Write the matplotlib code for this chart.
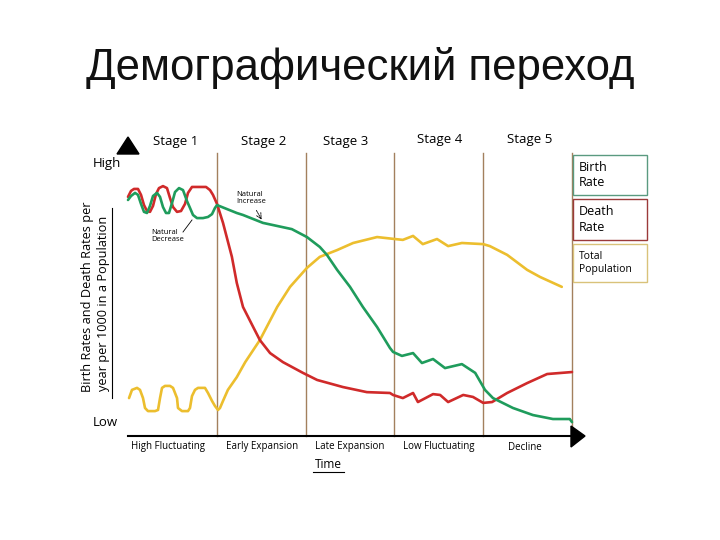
import matplotlib.pyplot as plt
from matplotlib.patches import Polygon, Rectangle
from matplotlib.lines import Line2D

# time runs 0..100 across the five stages, rates 0 (low) .. 100 (high)
stages = ['Stage 1', 'Stage 2', 'Stage 3', 'Stage 4', 'Stage 5']
phases = ['High Fluctuating', 'Early Expansion', 'Late Expansion', 'Low Fluctuating', 'Decline']
stage_edges = [20, 40, 60, 80, 100]

birth_t = [0, 0.68, 1.58, 2.25, 2.93, 3.60, 4.28, 4.95, 5.63, 6.53, 7.21, 7.88, 8.56, 9.23, 9.91, 10.59,
           11.49, 12.39, 13.29, 13.96, 14.64, 15.54, 16.89, 18.02, 18.92, 19.59, 20.05,
           24.5, 25.9, 30.4, 36.9, 40.3, 43.2, 44.8, 47.1, 50.0, 52.9, 56.1,
           59.0, 59.7, 61.7, 64.2, 66.2, 68.7, 71.4, 75.2, 78.2, 80.4, 82.2, 86.7, 91.2, 95.7, 99.5, 100]
birth_r = [83.4, 84.8, 85.9, 85.2, 82.0, 79.2, 78.8, 81.3, 84.8, 85.9, 84.5, 80.9, 78.8, 78.8, 82.3, 86.2,
           87.6, 86.9, 83.0, 80.6, 78.1, 77.0, 77.0, 77.4, 78.4, 80.6, 81.6,
           78.8, 78.1, 75.3, 73.1, 70.3, 66.8, 64.0, 58.7, 52.7, 45.6, 38.5,
           31.1, 29.7, 28.3, 29.3, 25.8, 27.2, 24.0, 25.4, 22.3, 16.3, 13.4, 9.9, 7.4, 6.0, 6.0, 4.9]

death_t = [0, 0.68, 1.35, 2.25, 2.93, 3.60, 4.28, 4.95, 5.63, 6.31, 6.98, 7.88, 8.78, 9.46, 10.14, 11.04,
           11.94, 12.84, 13.51, 14.41, 16.22, 17.57, 18.47, 19.14, 20.05,
           21.4, 23.4, 24.5, 25.9, 28.2, 29.7, 32.0, 34.9, 39.4, 42.6, 48.4, 53.8, 59.0, 59.7, 61.9, 64.2,
           65.3, 68.7, 70.3, 72.1, 75.5, 77.7, 80.0, 82.0, 85.4, 89.9, 94.4, 100]
death_r = [84.5, 86.6, 87.3, 87.3, 85.2, 81.6, 79.5, 79.2, 81.3, 85.5, 87.6, 88.3, 87.6, 84.1, 80.9, 79.2,
           79.5, 82.0, 85.9, 88.0, 88.0, 88.0, 86.9, 85.2, 82.0,
           75.3, 63.3, 54.1, 45.6, 38.5, 33.9, 29.3, 26.1, 22.3, 19.8, 17.3, 15.5, 15.2, 14.5, 13.4, 15.2,
           12.0, 14.8, 14.5, 12.0, 14.5, 13.8, 11.7, 12.0, 15.2, 18.7, 21.9, 22.6]

pop_t = [0.23, 0.90, 2.03, 2.70, 3.38, 3.83, 4.50, 6.08, 6.76, 7.21, 7.66, 8.33, 9.46, 10.14, 11.04, 11.26,
         12.16, 13.51, 13.96, 14.41, 15.09, 15.77, 17.34, 18.02, 18.92, 19.59, 20.27, 20.72, 21.40,
         22.5, 24.5, 26.4, 29.7, 33.6, 36.5, 40.3, 43.2, 47.1, 50.7, 56.1, 60.1, 61.9, 64.2, 66.4, 69.6,
         72.1, 75.2, 80.0, 81.5, 85.4, 89.9, 92.8, 97.7]
pop_r = [13.4, 16.3, 17.0, 16.3, 13.4, 9.9, 8.8, 8.8, 9.2, 13.4, 17.0, 17.7, 17.7, 17.0, 13.4, 9.9,
         8.8, 8.8, 9.9, 14.1, 16.3, 17.0, 17.0, 15.2, 12.4, 10.6, 9.2, 9.9, 12.4,
         16.3, 20.8, 26.1, 33.9, 45.6, 52.7, 59.4, 63.3, 65.7, 68.2, 70.3, 69.6, 69.3, 70.7, 67.8, 69.6,
         67.1, 68.2, 67.8, 67.1, 64.0, 58.7, 56.2, 52.7]

GREEN = '#1f9c5c'
RED = '#d02a2a'
YELLOW = '#ecbe2e'
BROWN = '#a3805e'
FONT = 'Open Sans'


def fx(px):
    return px / 720


def fy(py):
    return 1 - py / 540


fig = plt.figure(figsize=(7.2, 5.4), dpi=100)
ax = fig.add_axes([fx(128), fy(436), fx(572) - fx(128), fy(153) - fy(436)])
ax.set_xlim(0, 100)
ax.set_ylim(0, 100)
ax.axis('off')

# stage dividers and time axis
for e in stage_edges:
    ax.axvline(e, color=BROWN, linewidth=1.0, zorder=1, clip_on=False)
ax.axhline(0, color='black', linewidth=1.5, zorder=2, clip_on=False)

style = dict(linewidth=1.9, solid_capstyle='round', solid_joinstyle='round', clip_on=False)
ax.plot(pop_t, pop_r, color=YELLOW, zorder=3, **style)
ax.plot(death_t, death_r, color=RED, zorder=4, **style)
ax.plot(birth_t, birth_r, color=GREEN, zorder=5, **style)

# arrow heads
fig.patches.append(Polygon([(fx(117), fy(154)), (fx(139), fy(154)), (fx(128), fy(137))],
                           closed=True, color='black', transform=fig.transFigure))
fig.patches.append(Polygon([(fx(571), fy(426)), (fx(571), fy(447)), (fx(585), fy(436))],
                           closed=True, color='black', transform=fig.transFigure))

fig.text(0.5, fy(68), 'Демографический переход', ha='center', va='center',
         fontsize=31.5, family='Liberation Sans', color='#111111')

stage_x = [176, 264, 346, 440, 530]
stage_y = [141, 141, 142, 140, 140]
for s, x, y in zip(stages, stage_x, stage_y):
    fig.text(fx(x), fy(y), s, ha='center', va='center', fontsize=9.5, family=FONT)

phase_x = [168, 262, 350, 439, 525]
for p, x in zip(phases, phase_x):
    fig.text(fx(x), fy(447), p, ha='center', va='center', fontsize=7, family=FONT)

fig.text(fx(328), fy(465), 'Time', ha='center', va='center', fontsize=8.5, family=FONT)
fig.lines.append(Line2D([fx(313), fx(344)], [fy(472), fy(472)], color='black', linewidth=0.8,
                        transform=fig.transFigure))

fig.text(fx(93), fy(164), 'High', ha='left', va='center', fontsize=9.5, family=FONT)
fig.text(fx(93), fy(422), 'Low', ha='left', va='center', fontsize=9.5, family=FONT)

fig.text(fx(87), fy(297), 'Birth Rates and Death Rates per', rotation=90, ha='center', va='center',
         fontsize=9.2, family=FONT)
fig.text(fx(104), fy(303), 'year per 1000 in a Population', rotation=90, ha='center', va='center',
         fontsize=9.2, family=FONT)
fig.lines.append(Line2D([fx(112), fx(112)], [fy(208), fy(398)], color='black', linewidth=0.8,
                        transform=fig.transFigure))

# annotations
fig.text(fx(236), fy(198), 'Natural\nIncrease', ha='left', va='center', fontsize=5.5,
         family=FONT, linespacing=1.1)
ax.annotate('', xy=(fx(263), fy(222)), xytext=(fx(255), fy(208)), xycoords='figure fraction',
            arrowprops=dict(arrowstyle='->', color='black', linewidth=0.6, linestyle=(0, (2, 1))))
fig.text(fx(151), fy(236), 'Natural\nDecrease', ha='left', va='center', fontsize=5.5,
         family=FONT, linespacing=1.1)
fig.lines.append(Line2D([fx(183), fx(192)], [fy(232), fy(220)], color='black', linewidth=0.6,
                        transform=fig.transFigure))

# legend boxes
boxes = [('Birth\nRate', '#5a9a80', 155, 195, 9),
         ('Death\nRate', '#9b3a3a', 199, 240, 9),
         ('Total\nPopulation', '#d9c27a', 244, 282, 7.5)]
for label, edge, top, bottom, size in boxes:
    fig.patches.append(Rectangle((fx(573), fy(bottom)), fx(647) - fx(573), fy(top) - fy(bottom),
                                 fill=False, edgecolor=edge, linewidth=1.0, transform=fig.transFigure))
    fig.text(fx(579), fy((top + bottom) / 2), label, ha='left', va='center', fontsize=size,
             family=FONT, linespacing=1.25)

fig.savefig('out.png', dpi=100)
plt.close(fig)
